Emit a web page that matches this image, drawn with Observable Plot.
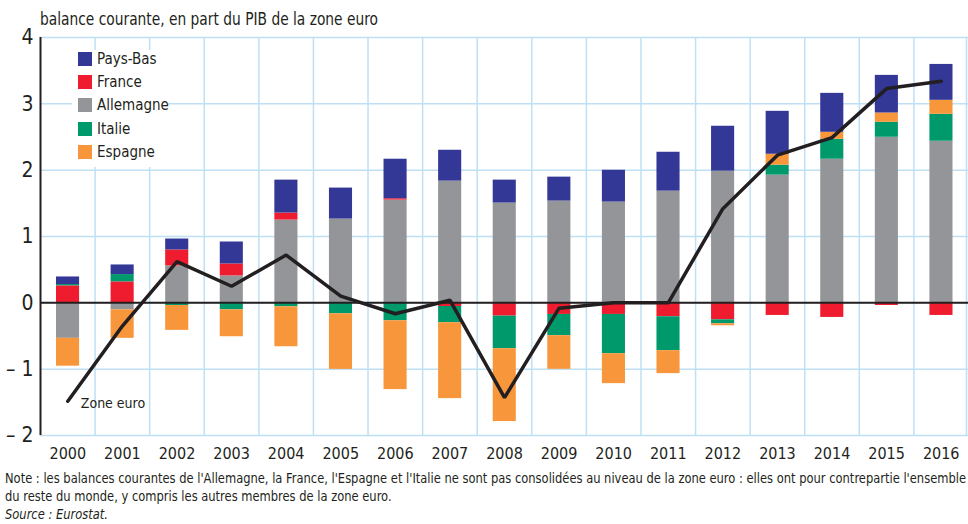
<!DOCTYPE html>
<html>
<head>
<meta charset="utf-8">
<script src="https://cdn.jsdelivr.net/npm/d3@7"></script>
<script src="https://cdn.jsdelivr.net/npm/@observablehq/plot@0.6"></script>
<style>
  html, body { margin: 0; padding: 0; background: #fff; }
  #wrap { position: relative; width: 968px; height: 524px; overflow: hidden;
          font-family: "DejaVu Sans Condensed", "Liberation Sans Narrow", sans-serif; color: #231f20; }
  #title { position: absolute; left: 40px; top: 10px; font-size: 18px; line-height: 18px; white-space: nowrap; z-index: 2; }
  #title span, #notes span { display: inline-block; transform-origin: 0 50%; }
  #chart svg { display: block; }
  #legend { position: absolute; left: 72px; top: 50px; width: 96px; height: 117px; background: #fff; }
  .li { position: absolute; left: 6px; height: 14px; font-size: 15px; line-height: 14px; white-space: nowrap; }
  .sw { display: inline-block; width: 14px; height: 14px; vertical-align: top; margin-right: 5px; }
  #notes { font-size: 14px; line-height: 18px; margin-top: -1px; padding-left: 5px; white-space: nowrap; }
</style>
</head>
<body>
<div id="wrap">
  <div id="title"><span>balance courante, en part du PIB de la zone euro</span></div>
  <div id="chart"></div>
  <div id="legend"></div>
  <div id="notes"></div>
</div>
<script>
const years = [2000, 2001, 2002, 2003, 2004, 2005, 2006, 2007, 2008, 2009, 2010, 2011, 2012, 2013, 2014, 2015, 2016];
const allemagne = [-0.535, -0.105, 0.556, 0.406, 1.248, 1.263, 1.549, 1.835, 1.504, 1.534, 1.519, 1.684, 1.985, 1.925, 2.165, 2.496, 2.436];
const france    = [0.256, 0.316, 0.241, 0.18, 0.105, 0, 0.02, -0.055, -0.2, -0.175, -0.175, -0.21, -0.256, -0.19, -0.22, -0.04, -0.19];
const italie    = [0.02, 0.11, -0.04, -0.105, -0.06, -0.165, -0.27, -0.245, -0.492, -0.32, -0.592, -0.511, -0.06, 0.15, 0.301, 0.226, 0.406];
const espagne   = [-0.42, -0.43, -0.375, -0.406, -0.602, -0.838, -1.038, -1.144, -1.098, -0.507, -0.451, -0.346, -0.03, 0.165, 0.105, 0.14, 0.211];
const paysBas   = [0.114, 0.145, 0.165, 0.331, 0.497, 0.467, 0.596, 0.465, 0.346, 0.361, 0.48, 0.586, 0.677, 0.647, 0.587, 0.567, 0.541];
const zoneEuro  = [-1.484, -0.35, 0.62, 0.25, 0.72, 0.1, -0.165, 0.04, -1.43, -0.08, 0.0, 0.0, 1.42, 2.226, 2.49, 3.23, 3.34];
const yTicks = [-2, -1, 0, 1, 2, 3, 4];

// stacking order (from zero outward)
const stackSeries = [
  {name: "Allemagne", values: allemagne, color: "#939598"},
  {name: "France", values: france, color: "#ee1c2e"},
  {name: "Italie", values: italie, color: "#00996b"},
  {name: "Espagne", values: espagne, color: "#f7963a"},
  {name: "Pays-Bas", values: paysBas, color: "#333795"}
];
const legendOrder = ["Pays-Bas", "France", "Allemagne", "Italie", "Espagne"];

const bars = stackSeries.flatMap(s => years.map((y, i) => ({year: y, series: s.name, value: s.values[i]})));
const line = years.map((y, i) => ({year: y, value: zoneEuro[i]}));

const grid = "#bfe0f4";
const dark = "#231f20";
const colorDomain = stackSeries.map(s => s.name);
const colorRange = stackSeries.map(s => s.color);

const chart = Plot.plot({
  width: 968,
  height: 470,
  marginTop: 37,
  marginBottom: 35,
  marginLeft: 40,
  marginRight: 0,
  style: {fontFamily: '"DejaVu Sans Condensed", "Liberation Sans Narrow", sans-serif', color: dark, background: "#fff"},
  x: {type: "linear", domain: [years[0], years[years.length - 1] + 1]},
  y: {domain: [-2, 4]},
  color: {domain: colorDomain, range: colorRange},
  marks: [
    Plot.ruleY(yTicks, {stroke: grid, strokeWidth: 1.5}),
    Plot.ruleX(years.slice(1), {stroke: grid, strokeWidth: 1.5}),
    Plot.ruleX([years[years.length - 1] + 1], {stroke: grid, strokeWidth: 1.5, dx: -2}),
    Plot.rectY(bars, Plot.stackY({
      x1: "year", x2: d => d.year + 1, y: "value", fill: "series",
      insetLeft: 16, insetRight: 15.5
    })),
    Plot.ruleY([0], {stroke: dark, strokeWidth: 2}),
    Plot.ruleX([years[0]], {stroke: dark, strokeWidth: 2}),
    Plot.line(line, {x: d => d.year + 0.5, y: "value", stroke: dark, strokeWidth: 3.5, strokeLinejoin: "miter"}),
    Plot.text(line.slice(0, 1), {x: d => d.year + 0.5, y: "value", text: () => "Zone euro", textAnchor: "start", dx: 13, dy: 2, fontSize: 14, fill: dark}),
    Plot.axisY(yTicks, {tickSize: 0, tickPadding: 7, fontSize: 21, tickFormat: d => d < 0 ? "\u2013 " + (-d) : String(d), label: null}),
    Plot.axisX(years.map(y => y + 0.5), {tickSize: 0, tickPadding: 12, fontSize: 16, tickFormat: d => String(d - 0.5), label: null})
  ]
});
document.getElementById("chart").appendChild(chart);

// legend
const legend = document.getElementById("legend");
legendOrder.forEach((name, i) => {
  const s = stackSeries.find(d => d.name === name);
  const row = document.createElement("div");
  row.className = "li";
  row.style.top = (2 + i * 23.2) + "px";
  row.innerHTML = `<span class="sw" style="background:${s.color}"></span>${name}`;
  legend.appendChild(row);
});

// notes
const noteLines = [
  "Note : les balances courantes de l'Allemagne, la France, l'Espagne et l'Italie ne sont pas consolidées au niveau de la zone euro : elles ont pour contrepartie l'ensemble",
  "du reste du monde, y compris les autres membres de la zone euro."
];
const sourceText = "Source : Eurostat.";
const notes = document.getElementById("notes");
const noteSpans = noteLines.map(t => { const d = document.createElement("div"); const s = document.createElement("span"); s.textContent = t; d.appendChild(s); notes.appendChild(d); return s; });
const srcDiv = document.createElement("div"); const srcSpan = document.createElement("span");
srcSpan.textContent = sourceText; srcSpan.style.fontStyle = "italic"; srcDiv.appendChild(srcSpan); notes.appendChild(srcDiv);

// condense texts to the reference's narrow-font widths
function fit(el, target) {
  const w = el.getBoundingClientRect().width;
  el.style.transform = `scaleX(${target / w})`;
}
const titleSpan = document.querySelector("#title span");
fit(titleSpan, 338);
const k = 961 / noteSpans[0].getBoundingClientRect().width;
[noteSpans[0], noteSpans[1], srcSpan].forEach(s => s.style.transform = `scaleX(${k})`);
</script>
</body>
</html>
